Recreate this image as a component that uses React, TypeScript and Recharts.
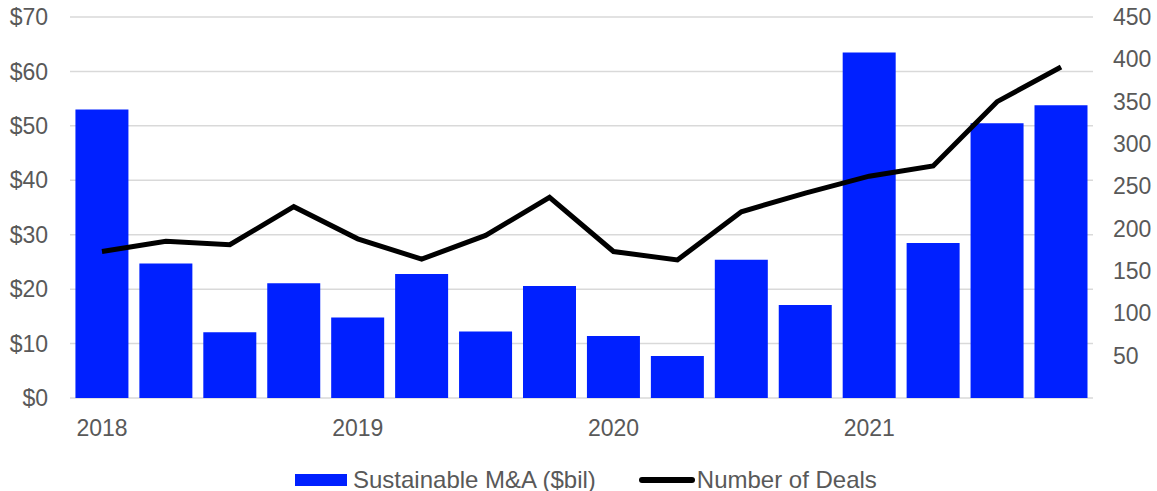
import React from 'react';
import { ComposedChart, Bar, Line, XAxis, YAxis, CartesianGrid, Legend } from 'recharts';

const quarters = [
  'Q1 2018', 'Q2 2018', 'Q3 2018', 'Q4 2018',
  'Q1 2019', 'Q2 2019', 'Q3 2019', 'Q4 2019',
  'Q1 2020', 'Q2 2020', 'Q3 2020', 'Q4 2020',
  'Q1 2021', 'Q2 2021', 'Q3 2021', 'Q4 2021',
];
const mnaValues = [53.0, 24.7, 12.1, 21.1, 14.8, 22.8, 12.2, 20.6, 11.4, 7.7, 25.4, 17.1, 63.5, 28.5, 50.5, 53.8];
const dealCounts = [173, 185, 181, 226, 188, 164, 192, 237, 173, 163, 220, 242, 262, 274, 350, 391];
const leftTicks = [0, 10, 20, 30, 40, 50, 60, 70];
const rightTicks = [0, 50, 100, 150, 200, 250, 300, 350, 400, 450];

const data = quarters.map((q, i) => ({ quarter: q, mna: mnaValues[i], deals: dealCounts[i] }));

const FONT = '"Liberation Sans", Arial, sans-serif';
const TEXT = '#595959';
const BLUE = '#0020FF';

const LegendContent = () => (
  <div style={{ display: 'flex', alignItems: 'center', paddingLeft: 295, paddingTop: 17, fontFamily: FONT, fontSize: 24, color: TEXT, lineHeight: '24px' }}>
    <span style={{ display: 'inline-block', width: 52, height: 12, background: BLUE, marginRight: 6 }} />
    <span>Sustainable M&amp;A ($bil)</span>
    <span style={{ display: 'inline-block', width: 56, height: 6, background: '#000', borderRadius: 3, marginLeft: 43, marginRight: 2 }} />
    <span>Number of Deals</span>
  </div>
);

export default function App() {
  return (
    <div style={{ position: 'absolute', left: 0, top: 0 }}>
      <ComposedChart width={1157} height={491} data={data} margin={{ top: 17, right: 0, bottom: 0, left: 0 }} barCategoryGap="8.5%">
        <CartesianGrid yAxisId="left" vertical={false} stroke="#d9d9d9" strokeWidth={1.5} />
        <XAxis
          dataKey="quarter"
          height={53}
          axisLine={false}
          tickLine={false}
          interval={0}
          tickMargin={16}
          tick={{ fill: TEXT, fontSize: 23, fontFamily: FONT }}
          tickFormatter={(v: string) => (v.startsWith('Q1') ? v.slice(3) : '')}
        />
        <YAxis
          yAxisId="left"
          width={70}
          domain={[0, 70]}
          ticks={leftTicks}
          axisLine={false}
          tickLine={false}
          tickMargin={16}
          tick={{ fill: TEXT, fontSize: 23, fontFamily: FONT }}
          tickFormatter={(v: number) => `$${v}`}
        />
        <YAxis
          yAxisId="right"
          orientation="right"
          width={64}
          domain={[0, 450]}
          ticks={rightTicks}
          axisLine={false}
          tickLine={false}
          tickMargin={14}
          tick={{ fill: TEXT, fontSize: 23, fontFamily: FONT }}
          tickFormatter={(v: number) => (v === 0 ? '' : `${v}`)}
        />
        <Legend verticalAlign="bottom" height={40} content={<LegendContent />} />
        <Bar yAxisId="left" dataKey="mna" name="Sustainable M&A ($bil)" fill={BLUE} isAnimationActive={false} />
        <Line yAxisId="right" dataKey="deals" name="Number of Deals" type="linear" stroke="#000" strokeWidth={5} dot={false} activeDot={false} isAnimationActive={false} />
      </ComposedChart>
    </div>
  );
}
